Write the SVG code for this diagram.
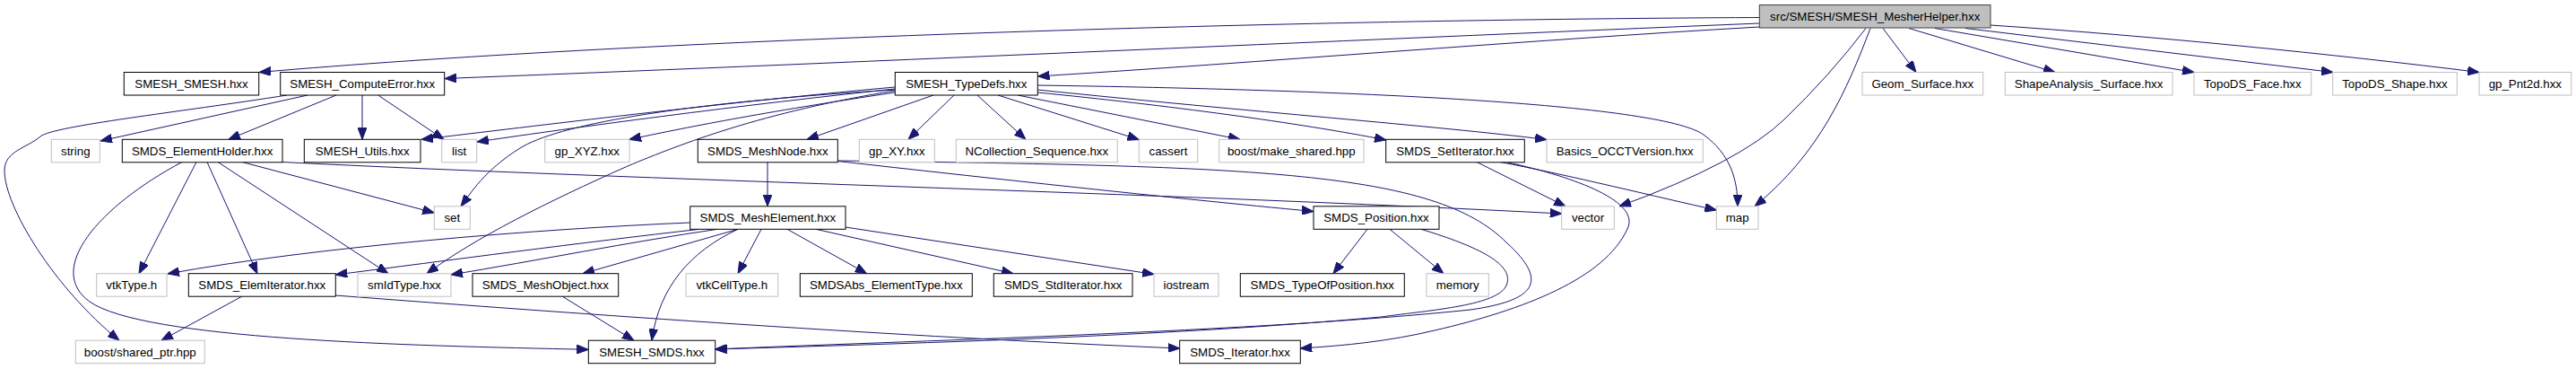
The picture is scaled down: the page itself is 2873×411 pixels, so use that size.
<svg xmlns="http://www.w3.org/2000/svg" width="2873" height="411" viewBox="0 0 2873 411">
<style>
rect{stroke-width:1}
.doc rect{fill:#fff;stroke:#000}
.ext rect{fill:#fff;stroke:#bfbfbf}
.root rect{fill:#bfbfbf;stroke:#404040}
text{font-family:"Liberation Sans",Arial,sans-serif;font-size:13.3px;fill:#000;text-anchor:middle}
#edges path{fill:none;stroke:#191970;stroke-width:1;marker-end:url(#arr)}
</style>
<defs>
<marker id="arr" viewBox="0 0 13 10" refX="13" refY="5" markerWidth="13" markerHeight="10" markerUnits="userSpaceOnUse" orient="auto">
<path d="M0,0 L13,5 L0,10 z" fill="#191970" stroke="#191970" stroke-width="1"/>
</marker>
</defs>
<rect width="2873" height="411" fill="#fff"/>
<g id="edges">
<path d="M1962,19.5 C1400,22 700,45 289,80.5"/>
<path d="M1962,26 C1500,45 900,72 496,87.5"/>
<path d="M1962,30 C1700,45 1400,70 1157.5,85"/>
<path d="M2081,31.5 Q2040,85 1990,133 T1806,229.8"/>
<path d="M2086,31.5 C2060,100 2030,170 1957,229.8"/>
<path d="M2100,31.5 L2137,80.5"/>
<path d="M2129,31.5 L2292,80.5"/>
<path d="M2158,31.5 L2447,80.5"/>
<path d="M2192,31.5 L2602,80.5"/>
<path d="M2220,28 C2400,40 2600,60 2765,80.5"/>
<path d="M998,97 C800,115 600,140 470,155.3"/>
<path d="M998,99 C800,120 620,145 532,158"/>
<path d="M998,100 C750,115 620,140 580,165 S525,215 514,229.8"/>
<path d="M998,101 C850,125 760,160 700,185 C610,225 530,265 476,304.7"/>
<path d="M998,103 C850,125 760,143 702,155.3"/>
<path d="M1041,106 L900,155.3"/>
<path d="M1064,106 L1013,155.3"/>
<path d="M1090,106 L1144,155.3"/>
<path d="M1113,106 L1270.3,155.5"/>
<path d="M1135,106 L1383,155.3"/>
<path d="M1157,103 C1300,117 1450,137 1546,156"/>
<path d="M1157,100 C1400,125 1600,140 1725,155.5"/>
<path d="M1157,95 C1500,100 1850,115 1900,150 C1930,172 1938,200 1938,229.8"/>
<path d="M320,106 C200,125 60,140 45,152 C30,165 5,168 5,190 C5,230 60,320 133,379.2"/>
<path d="M343,106 L112,157"/>
<path d="M375,106 L255,155.3"/>
<path d="M404,106 L404,155.3"/>
<path d="M421.7,106 L495,155.3"/>
<path d="M203,180.5 C110,230 50,300 100,336 C160,378 450,385 656.3,389.3"/>
<path d="M219,180.5 L155,304.7"/>
<path d="M231,180.5 L287,304.7"/>
<path d="M243,180.5 L433,304.7"/>
<path d="M270,180.5 L484.3,237"/>
<path d="M315,180.5 C700,200 1300,215 1741.7,238"/>
<path d="M856,180.5 L856,229.8"/>
<path d="M934,179.5 C1100,198 1300,220 1465,235.5"/>
<path d="M934,179 C1400,185 1600,190 1680,270 C1730,315 1710,335 1640,345 C1400,370 1000,380 797.7,389"/>
<path d="M1525,255.3 L1487,304.7"/>
<path d="M1550,255.3 L1610,304.7"/>
<path d="M1585,255.3 C1650,275 1690,295 1680,318 C1670,340 1600,345 1540,353 C1300,375 1000,383 797.7,389"/>
<path d="M1647,180.5 L1746,229.8"/>
<path d="M1673,180.5 C1750,195 1850,220 1914.3,234"/>
<path d="M1680,180.5 C1760,198 1830,225 1815,255 C1790,310 1700,345 1600,368 C1550,380 1500,385 1450.3,388"/>
<path d="M769.7,248 C600,255 350,275 187,305"/>
<path d="M780,255.3 C650,270 500,290 374.3,306"/>
<path d="M800,255.3 C700,270 600,290 503,306"/>
<path d="M823,255.3 L650,304.7"/>
<path d="M823,255.3 C770,280 735,320 727,379.2"/>
<path d="M849,255.3 L823,304.7"/>
<path d="M878,255.3 L966.7,304.7"/>
<path d="M910,255.3 L1130,304.7"/>
<path d="M943,253 L1287,305.5"/>
<path d="M270,330 L180,379.2"/>
<path d="M374,329 C650,350 1000,375 1315.7,388"/>
<path d="M627,330 L707,379.2"/>
</g>
<g id="n_root" class="root"><rect x="1962.3" y="5.5" width="257.7" height="25.5"/><text x="2091.2" y="22.8">src/SMESH/SMESH_MesherHelper.hxx</text></g>
<g id="n_smesh_smesh" class="doc"><rect x="138.3" y="80.5" width="150.4" height="25.5"/><text x="213.5" y="97.8">SMESH_SMESH.hxx</text></g>
<g id="n_computeerror" class="doc"><rect x="312.7" y="80.5" width="183" height="25.5"/><text x="404.2" y="97.8">SMESH_ComputeError.hxx</text></g>
<g id="n_typedefs" class="doc"><rect x="998.3" y="80.5" width="159" height="25.5"/><text x="1077.8" y="97.8">SMESH_TypeDefs.hxx</text></g>
<g id="n_geom_surface" class="ext"><rect x="2077" y="80.5" width="134.7" height="25.5"/><text x="2144.3" y="97.8">Geom_Surface.hxx</text></g>
<g id="n_shapeanalysis" class="ext"><rect x="2236.3" y="80.5" width="186.7" height="25.5"/><text x="2329.6" y="97.8">ShapeAnalysis_Surface.hxx</text></g>
<g id="n_topods_face" class="ext"><rect x="2447" y="80.5" width="130.7" height="25.5"/><text x="2512.3" y="97.8">TopoDS_Face.hxx</text></g>
<g id="n_topods_shape" class="ext"><rect x="2601.7" y="80.5" width="138.6" height="25.5"/><text x="2671" y="97.8">TopoDS_Shape.hxx</text></g>
<g id="n_gp_pnt2d" class="ext"><rect x="2765" y="80.5" width="102.7" height="25.5"/><text x="2816.3" y="97.8">gp_Pnt2d.hxx</text></g>
<g id="n_string" class="ext"><rect x="57.3" y="155.3" width="54" height="25.5"/><text x="84.3" y="172.6">string</text></g>
<g id="n_elementholder" class="doc"><rect x="136.3" y="155.3" width="178.7" height="25.5"/><text x="225.6" y="172.6">SMDS_ElementHolder.hxx</text></g>
<g id="n_smesh_utils" class="doc"><rect x="339.3" y="155.3" width="129.7" height="25.5"/><text x="404.2" y="172.6">SMESH_Utils.hxx</text></g>
<g id="n_list" class="ext"><rect x="492.7" y="155.3" width="39" height="25.5"/><text x="512.2" y="172.6">list</text></g>
<g id="n_gp_xyz" class="ext"><rect x="607.7" y="155.3" width="94.3" height="25.5"/><text x="654.8" y="172.6">gp_XYZ.hxx</text></g>
<g id="n_meshnode" class="doc"><rect x="778.3" y="155.3" width="156" height="25.5"/><text x="856.3" y="172.6">SMDS_MeshNode.hxx</text></g>
<g id="n_gp_xy" class="ext"><rect x="958.3" y="155.3" width="84" height="25.5"/><text x="1000.3" y="172.6">gp_XY.hxx</text></g>
<g id="n_ncollection" class="ext"><rect x="1066.3" y="155.3" width="180" height="25.5"/><text x="1156.3" y="172.6">NCollection_Sequence.hxx</text></g>
<g id="n_cassert" class="ext"><rect x="1270.3" y="155.3" width="65.4" height="25.5"/><text x="1303" y="172.6">cassert</text></g>
<g id="n_make_shared" class="ext"><rect x="1359.7" y="155.3" width="161.3" height="25.5"/><text x="1440.3" y="172.6">boost/make_shared.hpp</text></g>
<g id="n_setiterator" class="doc"><rect x="1545.7" y="155.3" width="154.6" height="25.5"/><text x="1623" y="172.6">SMDS_SetIterator.hxx</text></g>
<g id="n_occtversion" class="ext"><rect x="1725" y="155.3" width="174.3" height="25.5"/><text x="1812.2" y="172.6">Basics_OCCTVersion.hxx</text></g>
<g id="n_set" class="ext"><rect x="484.3" y="229.8" width="40" height="25.5"/><text x="504.3" y="247.1">set</text></g>
<g id="n_meshelement" class="doc"><rect x="769.7" y="229.8" width="173.3" height="25.5"/><text x="856.3" y="247.1">SMDS_MeshElement.hxx</text></g>
<g id="n_position" class="doc"><rect x="1465" y="229.8" width="140" height="25.5"/><text x="1535" y="247.1">SMDS_Position.hxx</text></g>
<g id="n_vector" class="ext"><rect x="1741.7" y="229.8" width="58.6" height="25.5"/><text x="1771" y="247.1">vector</text></g>
<g id="n_map" class="ext"><rect x="1914.3" y="229.8" width="46.7" height="25.5"/><text x="1937.7" y="247.1">map</text></g>
<g id="n_vtktype" class="ext"><rect x="107.7" y="304.7" width="78.3" height="25.5"/><text x="146.8" y="322">vtkType.h</text></g>
<g id="n_elemiterator" class="doc"><rect x="210.3" y="304.7" width="164" height="25.5"/><text x="292.3" y="322">SMDS_ElemIterator.hxx</text></g>
<g id="n_smidtype" class="ext"><rect x="399" y="304.7" width="104" height="25.5"/><text x="451" y="322">smIdType.hxx</text></g>
<g id="n_meshobject" class="doc"><rect x="527" y="304.7" width="162.7" height="25.5"/><text x="608.3" y="322">SMDS_MeshObject.hxx</text></g>
<g id="n_vtkcelltype" class="ext"><rect x="765" y="304.7" width="102.7" height="25.5"/><text x="816.3" y="322">vtkCellType.h</text></g>
<g id="n_elementtype" class="doc"><rect x="892.3" y="304.7" width="192" height="25.5"/><text x="988.3" y="322">SMDSAbs_ElementType.hxx</text></g>
<g id="n_stditerator" class="doc"><rect x="1108.3" y="304.7" width="154.7" height="25.5"/><text x="1185.7" y="322">SMDS_StdIterator.hxx</text></g>
<g id="n_iostream" class="ext"><rect x="1287" y="304.7" width="72" height="25.5"/><text x="1323" y="322">iostream</text></g>
<g id="n_typeofposition" class="doc"><rect x="1383.3" y="304.7" width="183" height="25.5"/><text x="1474.8" y="322">SMDS_TypeOfPosition.hxx</text></g>
<g id="n_memory" class="ext"><rect x="1591" y="304.7" width="69.3" height="25.5"/><text x="1625.7" y="322">memory</text></g>
<g id="n_shared_ptr" class="ext"><rect x="84.3" y="379.2" width="144" height="25.5"/><text x="156.3" y="396.5">boost/shared_ptr.hpp</text></g>
<g id="n_smesh_smds" class="doc"><rect x="656.3" y="379.2" width="141.4" height="25.5"/><text x="727" y="396.5">SMESH_SMDS.hxx</text></g>
<g id="n_iterator" class="doc"><rect x="1315.7" y="379.2" width="134.6" height="25.5"/><text x="1383" y="396.5">SMDS_Iterator.hxx</text></g>
</svg>
